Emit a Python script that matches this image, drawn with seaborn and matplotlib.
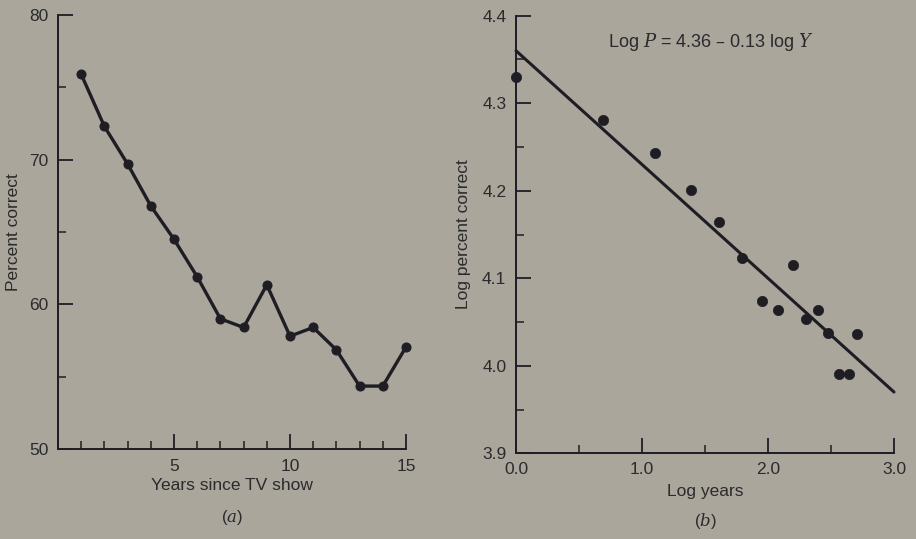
import matplotlib
matplotlib.use("Agg")
import matplotlib.pyplot as plt
from matplotlib.ticker import MultipleLocator, FormatStrFormatter
import seaborn as sns
import pandas as pd

# Recall of TV show names over time
years = [1, 2, 3, 4, 5, 6, 7, 8, 9, 10, 11, 12, 13, 14, 15]
percent_correct = [75.9, 72.3, 69.7, 66.8, 64.5, 61.9, 59.0, 58.4, 61.35,
                   57.8, 58.4, 56.85, 54.35, 54.35, 57.05]

# Same data on log-log axes
log_years = [0.0, 0.69, 1.10, 1.39, 1.61, 1.79, 1.95, 2.08, 2.20, 2.30,
             2.40, 2.48, 2.56, 2.64, 2.71]
log_percent = [4.330, 4.281, 4.243, 4.201, 4.164, 4.123, 4.074, 4.064, 4.115,
               4.054, 4.064, 4.037, 3.991, 3.991, 4.036]

# Fitted line: Log P = 4.36 - 0.13 log Y
fit_intercept = 4.36
fit_slope = -0.13
fit_range = [0.0, 3.0]

BG = "#aaa69c"
INK = "#1f1d24"
TXT = "#2b2a2c"

sns.set_theme(style="ticks")
plt.rcParams["font.family"] = ["Liberation Sans", "DejaVu Sans"]
plt.rcParams["mathtext.fontset"] = "dejavuserif"

fig = plt.figure(figsize=(9.16, 5.39), dpi=100)
fig.patch.set_facecolor(BG)

ax1 = fig.add_axes([58 / 916, 90 / 539, 348 / 916, 434 / 539])
ax2 = fig.add_axes([516 / 916, 85.7 / 539, 378 / 916, 437.6 / 539])

df_a = pd.DataFrame({"years": years, "pct": percent_correct})
sns.lineplot(data=df_a, x="years", y="pct", ax=ax1, color=INK, linewidth=2.4,
             marker="o", markersize=6.5, markeredgecolor=INK, markerfacecolor=INK)

df_b = pd.DataFrame({"lx": log_years, "ly": log_percent})
fit_df = pd.DataFrame({"lx": fit_range,
                       "ly": [fit_intercept + fit_slope * v for v in fit_range]})
sns.lineplot(data=fit_df, x="lx", y="ly", ax=ax2, color=INK, linewidth=2.2)
sns.scatterplot(data=df_b, x="lx", y="ly", ax=ax2, color=INK, s=55,
                edgecolor=INK, linewidth=0.5, zorder=3)

for ax in (ax1, ax2):
    ax.set_facecolor(BG)
    for artist in list(ax.lines) + list(ax.collections):
        artist.set_clip_on(False)
    for side in ("top", "right"):
        ax.spines[side].set_visible(False)
    for side in ("left", "bottom"):
        ax.spines[side].set_color(INK)
        ax.spines[side].set_linewidth(1.4)
    ax.tick_params(which="major", direction="in", length=11, width=1.3,
                   color=INK, labelcolor=TXT, labelsize=12.5, pad=7)
    ax.tick_params(which="minor", direction="in", length=6, width=1.1,
                   color=INK)

# Panel (a)
ax1.set_xlim(0, 15)
ax1.set_ylim(50, 80)
ax1.xaxis.set_major_locator(MultipleLocator(5))
ax1.xaxis.set_minor_locator(MultipleLocator(1))
ax1.yaxis.set_major_locator(MultipleLocator(10))
ax1.yaxis.set_minor_locator(MultipleLocator(5))
ax1.set_xticks([5, 10, 15])
ax1.set_xlabel("Years since TV show", fontsize=12.5, color=TXT, labelpad=3)
ax1.set_ylabel("Percent correct", fontsize=12.5, color=TXT, labelpad=6)
ax1.text(0.5, -0.158, r"($a$)", transform=ax1.transAxes, ha="center",
         va="center", fontsize=12, color=TXT)

# Panel (b)
ax2.set_xlim(0, 3.0)
ax2.set_ylim(3.9, 4.4)
ax2.xaxis.set_major_locator(MultipleLocator(1.0))
ax2.xaxis.set_minor_locator(MultipleLocator(0.5))
ax2.yaxis.set_major_locator(MultipleLocator(0.1))
ax2.yaxis.set_minor_locator(MultipleLocator(0.05))
ax2.xaxis.set_major_formatter(FormatStrFormatter("%.1f"))
ax2.yaxis.set_major_formatter(FormatStrFormatter("%.1f"))
ax2.tick_params(axis="x", pad=6)
ax2.set_xlabel("Log years", fontsize=12.5, color=TXT, labelpad=5)
ax2.set_ylabel("Log percent correct", fontsize=12.5, color=TXT, labelpad=8)
ax2.text(0.5, -0.155, r"($b$)", transform=ax2.transAxes, ha="center",
         va="center", fontsize=12, color=TXT)
ax2.text(1.55, 4.370,
         r"Log $P$ = 4.36 – 0.13 log $Y$",
         ha="center", va="center", fontsize=13, color=TXT)

fig.savefig("out.png", dpi=100, facecolor=BG)
